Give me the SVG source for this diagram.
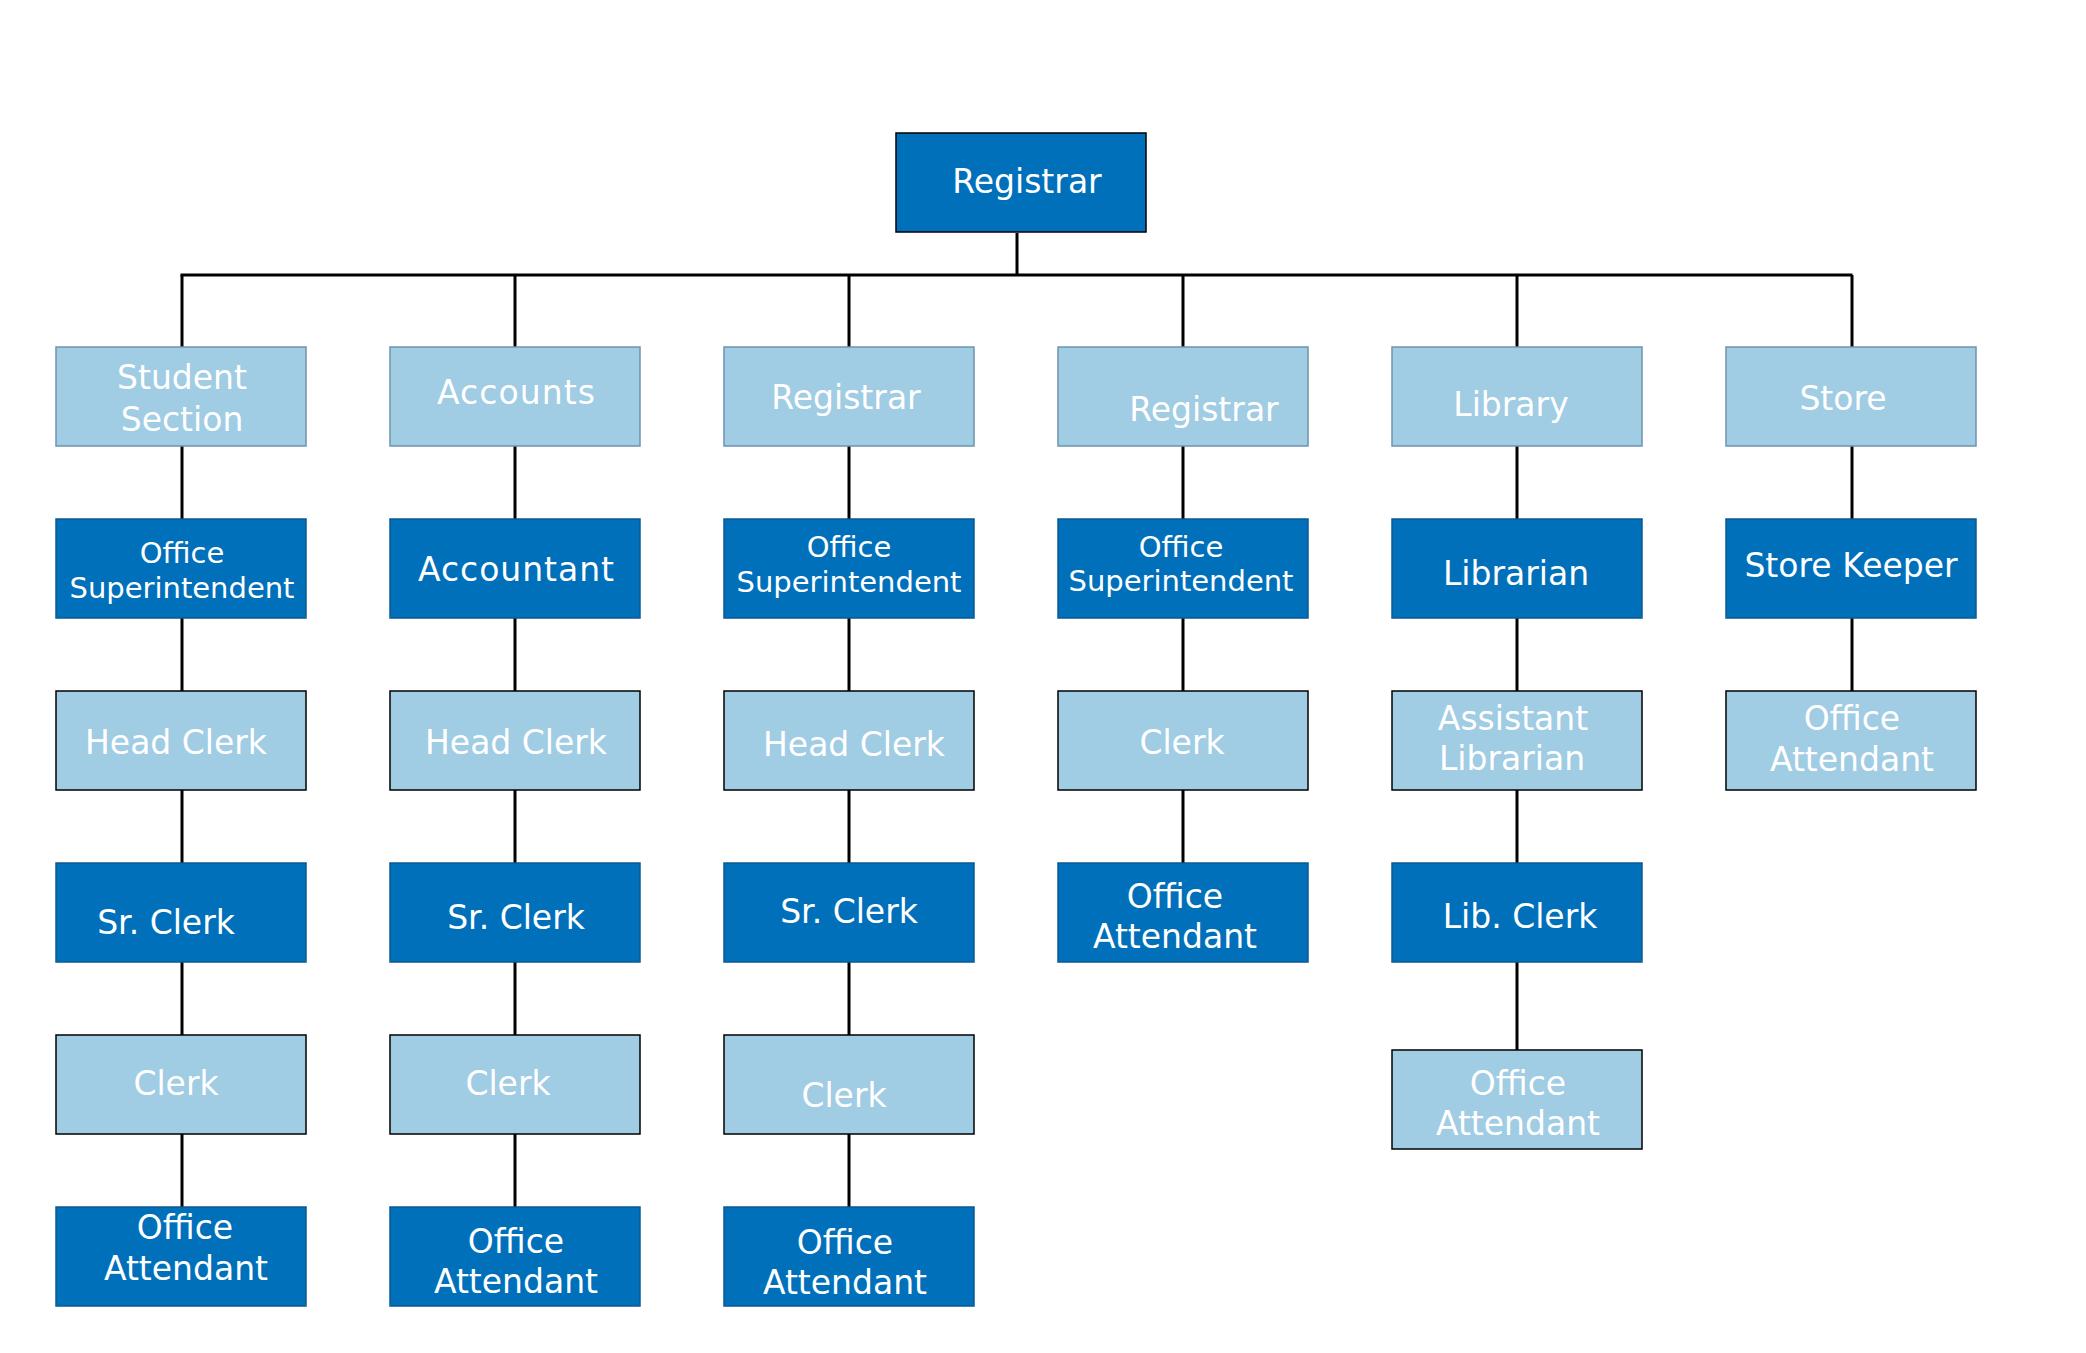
<svg xmlns="http://www.w3.org/2000/svg" width="2086" height="1353" viewBox="0 0 2086 1353">
<style>
.bg{fill:#ffffff}
.dk{fill:#0070bb;stroke:#0b5a92;stroke-width:1.5}
.lt{fill:#a0cce4;stroke:#000000;stroke-width:1.5}
.lh{fill:#a0cce4;stroke:#6f93ad;stroke-width:1.5}
.top{fill:#0070bb;stroke:#000000;stroke-width:1.5}
text{font-family:"DejaVu Sans","Liberation Sans",sans-serif;fill:#ffffff;text-anchor:middle;font-size:33px}
.s{font-size:29px}
.conn line{stroke:#000000;stroke-width:3;fill:none}
</style>
<rect class="bg" x="0" y="0" width="2086" height="1353"/>
<g class="conn" id="connectors">
<line x1="1017" y1="233" x2="1017" y2="275"/>
<line x1="180.5" y1="275" x2="1852.5" y2="275"/>
<line x1="182" y1="275" x2="182" y2="347"/>
<line x1="182" y1="446" x2="182" y2="519"/>
<line x1="182" y1="618" x2="182" y2="691"/>
<line x1="182" y1="790" x2="182" y2="863"/>
<line x1="182" y1="962" x2="182" y2="1035"/>
<line x1="182" y1="1134" x2="182" y2="1207"/>
<line x1="515" y1="275" x2="515" y2="347"/>
<line x1="515" y1="446" x2="515" y2="519"/>
<line x1="515" y1="618" x2="515" y2="691"/>
<line x1="515" y1="790" x2="515" y2="863"/>
<line x1="515" y1="962" x2="515" y2="1035"/>
<line x1="515" y1="1134" x2="515" y2="1207"/>
<line x1="849" y1="275" x2="849" y2="347"/>
<line x1="849" y1="446" x2="849" y2="519"/>
<line x1="849" y1="618" x2="849" y2="691"/>
<line x1="849" y1="790" x2="849" y2="863"/>
<line x1="849" y1="962" x2="849" y2="1035"/>
<line x1="849" y1="1134" x2="849" y2="1207"/>
<line x1="1183" y1="275" x2="1183" y2="347"/>
<line x1="1183" y1="446" x2="1183" y2="519"/>
<line x1="1183" y1="618" x2="1183" y2="691"/>
<line x1="1183" y1="790" x2="1183" y2="863"/>
<line x1="1517" y1="275" x2="1517" y2="347"/>
<line x1="1517" y1="446" x2="1517" y2="519"/>
<line x1="1517" y1="618" x2="1517" y2="691"/>
<line x1="1517" y1="790" x2="1517" y2="863"/>
<line x1="1517" y1="962" x2="1517" y2="1050"/>
<line x1="1852" y1="275" x2="1852" y2="347"/>
<line x1="1852" y1="446" x2="1852" y2="519"/>
<line x1="1852" y1="618" x2="1852" y2="691"/>
</g>
<g id="n-registrar-top"><rect class="top" x="896" y="133" width="250" height="99"/><text x="1027" y="193">Registrar</text></g>

<g id="n-student-section"><rect class="lh" x="56" y="347" width="250" height="99"/><text x="182" y="389">Student</text><text x="182" y="431">Section</text></g>
<g id="n-c1-office-superintendent"><rect class="dk" x="56" y="519" width="250" height="99"/><text class="s" x="182" y="563">Office</text><text class="s" x="182" y="598">Superintendent</text></g>
<g id="n-c1-head-clerk"><rect class="lt" x="56" y="691" width="250" height="99"/><text x="176" y="754">Head Clerk</text></g>
<g id="n-c1-sr-clerk"><rect class="dk" x="56" y="863" width="250" height="99"/><text x="166" y="934">Sr. Clerk</text></g>
<g id="n-c1-clerk"><rect class="lt" x="56" y="1035" width="250" height="99"/><text x="176" y="1095">Clerk</text></g>
<g id="n-c1-office-attendant"><rect class="dk" x="56" y="1207" width="250" height="99"/><text x="185" y="1239">Office</text><text x="186" y="1280">Attendant</text></g>

<g id="n-accounts"><rect class="lh" x="390" y="347" width="250" height="99"/><text x="516" y="404" textLength="158">Accounts</text></g>
<g id="n-accountant"><rect class="dk" x="390" y="519" width="250" height="99"/><text x="516" y="581" textLength="196">Accountant</text></g>
<g id="n-c2-head-clerk"><rect class="lt" x="390" y="691" width="250" height="99"/><text x="516" y="754">Head Clerk</text></g>
<g id="n-c2-sr-clerk"><rect class="dk" x="390" y="863" width="250" height="99"/><text x="516" y="929">Sr. Clerk</text></g>
<g id="n-c2-clerk"><rect class="lt" x="390" y="1035" width="250" height="99"/><text x="508" y="1095">Clerk</text></g>
<g id="n-c2-office-attendant"><rect class="dk" x="390" y="1207" width="250" height="99"/><text x="516" y="1253">Office</text><text x="516" y="1293">Attendant</text></g>

<g id="n-c3-registrar"><rect class="lh" x="724" y="347" width="250" height="99"/><text x="846" y="409">Registrar</text></g>
<g id="n-c3-office-superintendent"><rect class="dk" x="724" y="519" width="250" height="99"/><text class="s" x="849" y="557">Office</text><text class="s" x="849" y="592">Superintendent</text></g>
<g id="n-c3-head-clerk"><rect class="lt" x="724" y="691" width="250" height="99"/><text x="854" y="756">Head Clerk</text></g>
<g id="n-c3-sr-clerk"><rect class="dk" x="724" y="863" width="250" height="99"/><text x="849" y="923">Sr. Clerk</text></g>
<g id="n-c3-clerk"><rect class="lt" x="724" y="1035" width="250" height="99"/><text x="844" y="1107">Clerk</text></g>
<g id="n-c3-office-attendant"><rect class="dk" x="724" y="1207" width="250" height="99"/><text x="845" y="1254">Office</text><text x="845" y="1294">Attendant</text></g>

<g id="n-c4-registrar"><rect class="lh" x="1058" y="347" width="250" height="99"/><text x="1204" y="421">Registrar</text></g>
<g id="n-c4-office-superintendent"><rect class="dk" x="1058" y="519" width="250" height="99"/><text class="s" x="1181" y="557">Office</text><text class="s" x="1181" y="591">Superintendent</text></g>
<g id="n-c4-clerk"><rect class="lt" x="1058" y="691" width="250" height="99"/><text x="1182" y="754">Clerk</text></g>
<g id="n-c4-office-attendant"><rect class="dk" x="1058" y="863" width="250" height="99"/><text x="1175" y="908">Office</text><text x="1175" y="948">Attendant</text></g>

<g id="n-library"><rect class="lh" x="1392" y="347" width="250" height="99"/><text x="1511" y="416">Library</text></g>
<g id="n-librarian"><rect class="dk" x="1392" y="519" width="250" height="99"/><text x="1516" y="585">Librarian</text></g>
<g id="n-assistant-librarian"><rect class="lt" x="1392" y="691" width="250" height="99"/><text x="1513" y="730">Assistant</text><text x="1512" y="770">Librarian</text></g>
<g id="n-lib-clerk"><rect class="dk" x="1392" y="863" width="250" height="99"/><text x="1520" y="928">Lib. Clerk</text></g>
<g id="n-c5-office-attendant"><rect class="lt" x="1392" y="1050" width="250" height="99"/><text x="1518" y="1095">Office</text><text x="1518" y="1135">Attendant</text></g>

<g id="n-store"><rect class="lh" x="1726" y="347" width="250" height="99"/><text x="1843" y="410">Store</text></g>
<g id="n-store-keeper"><rect class="dk" x="1726" y="519" width="250" height="99"/><text x="1851" y="577">Store Keeper</text></g>
<g id="n-c6-office-attendant"><rect class="lt" x="1726" y="691" width="250" height="99"/><text x="1852" y="730">Office</text><text x="1852" y="771">Attendant</text></g>
</svg>
